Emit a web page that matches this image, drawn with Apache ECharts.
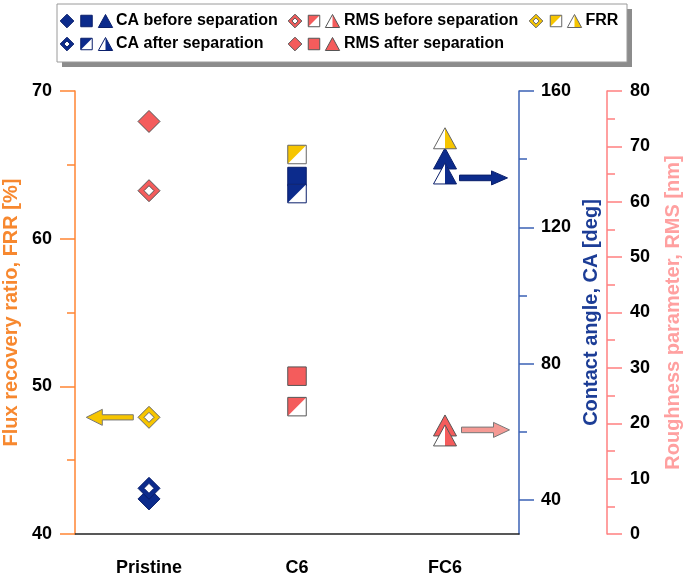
<!DOCTYPE html>
<html><head><meta charset="utf-8">
<script src="https://cdn.jsdelivr.net/npm/echarts@6/dist/echarts.min.js"></script>
<style>html,body{margin:0;padding:0;background:#fff}#c{width:685px;height:578px}</style>
</head><body><div id="c"></div>
<script>
// ---------- data ----------
const categories = ['Pristine', 'C6', 'FC6'];
const caBefore  = [40.3, 134.9, 140.2];   // contact angle [deg]
const caAfter   = [43.4, 129.9, 135.8];
const rmsBefore = [62.0, 23.0, 17.8];     // roughness [nm]
const rmsAfter  = [74.5, 28.5, 19.6];
const frr       = [47.9, 65.7, 66.8];     // flux recovery ratio [%]
const caTickValues  = [40, 80, 120, 160];
const caMinorValues = [60, 100, 140];
// annotation arrows (category, value on its axis)
const frrArrow = ['Pristine', 47.9];
const caArrow  = ['FC6', 134.5];
const rmsArrow = ['FC6', 18.8];

// ---------- styles ----------
const FONT = '"Liberation Sans", Arial, sans-serif';
const BLUE = '#0c2b8c', BLUE_OUT = '#0a1f6b';
const RED = '#f45c5c', RED_OUT = '#555555';
const YEL = '#f6c500', YEL_OUT = '#666666';
const SHAPES = ['diamond', 'square', 'triangle'];

function poly(pts, cx, cy, fill, stroke, lw) {
  return { type: 'polygon',
    shape: { points: pts.map(q => [cx + q[0], cy + q[1]]) },
    style: { fill: fill, stroke: stroke || null, lineWidth: lw || 0 } };
}
function glyph(shape, open, color, outline, cx, cy, k) {
  const parts = [];
  if (shape === 'diamond') {
    const r = 11 * k, ri = 5 * k;
    parts.push(poly([[0,-r],[r,0],[0,r],[-r,0]], cx, cy, color, outline, 1));
    if (open) parts.push(poly([[0,-ri],[ri,0],[0,ri],[-ri,0]], cx, cy, '#fff', outline, 1));
  } else if (shape === 'square') {
    const h = 9.25 * k;
    const pts = [[-h,-h],[h,-h],[h,h],[-h,h]];
    if (open) {
      parts.push(poly(pts, cx, cy, '#fff'));
      parts.push(poly([[-h,-h],[h,-h],[-h,h]], cx, cy, color));
      parts.push(poly(pts, cx, cy, 'none', outline, 1));
    } else parts.push(poly(pts, cx, cy, color, outline, 1));
  } else {
    const w = 11.5 * k, h = 10.5 * k;
    const pts = [[0,-h],[w,h],[-w,h]];
    if (open) {
      parts.push(poly(pts, cx, cy, '#fff'));
      parts.push(poly([[0,-h],[w,h],[0,h]], cx, cy, color));
      parts.push(poly(pts, cx, cy, 'none', outline, 1));
    } else parts.push(poly(pts, cx, cy, color, outline, 1));
  }
  return parts;
}

function markerSeries(name, values, yAxisIndex, open, color, outline) {
  return {
    name: name, type: 'custom', coordinateSystem: 'cartesian2d',
    xAxisIndex: 0, yAxisIndex: yAxisIndex, clip: false,
    encode: { x: 0, y: 1 },
    data: categories.map((c, i) => [i, values[i]]),
    renderItem: function (params, api) {
      const idx = api.value(0);
      const p = api.coord([idx, api.value(1)]);
      return { type: 'group', children: glyph(SHAPES[idx], open, color, outline, p[0], p[1], 1) };
    }
  };
}

function arrowSeries(item, yAxisIndex, dir, fill, stroke, cfg) {
  return {
    type: 'custom', coordinateSystem: 'cartesian2d', xAxisIndex: 0, yAxisIndex: yAxisIndex,
    clip: false, silent: true, encode: { x: 0, y: 1 },
    data: [[categories.indexOf(item[0]), item[1]]],
    renderItem: function (params, api) {
      const p = api.coord([api.value(0), api.value(1)]);
      const cx = p[0], cy = p[1];
      const x0 = cx + dir * cfg.gap, x1 = cx + dir * (cfg.gap + cfg.len);
      const xh = x1 - dir * cfg.head;
      const sh = cfg.shaft, hh = cfg.half;
      const pts = [[x0, cy - sh], [xh, cy - sh], [xh, cy - hh], [x1, cy], [xh, cy + hh], [xh, cy + sh], [x0, cy + sh]];
      return { type: 'polygon', shape: { points: pts }, style: { fill: fill, stroke: stroke, lineWidth: 1 } };
    }
  };
}

// ---------- legend (graphic) ----------
const legendEls = [];
legendEls.push({ type: 'rect', shape: { x: 62, y: 9, width: 570, height: 58 }, style: { fill: '#8c8c8c' } });
legendEls.push({ type: 'rect', shape: { x: 57, y: 4, width: 570, height: 58 }, style: { fill: '#fff', stroke: '#9a9a9a', lineWidth: 1 } });
function legendItem(xs, y, open, color, outline, text) {
  SHAPES.forEach((s, i) => glyph(s, open, color, outline, xs[i], y, 0.62).forEach(e => legendEls.push(e)));
  legendEls.push({ type: 'text', x: xs[3], y: y,
    style: { text: text, fill: '#000', fontSize: 16, fontWeight: 'bold', fontFamily: FONT, verticalAlign: 'middle', align: 'left' } });
}
const colA = [67, 86.5, 105.5, 116], colB = [295, 314, 332.5, 344], colC = [536, 556, 574.5, 585.5];
legendItem(colA, 21, false, BLUE, BLUE_OUT, 'CA before separation');
legendItem(colB, 21, true, RED, RED_OUT, 'RMS before separation');
legendItem(colC, 21, true, YEL, YEL_OUT, 'FRR');
legendItem(colA, 44, true, BLUE, BLUE_OUT, 'CA after separation');
legendItem(colB, 44, false, RED, RED_OUT, 'RMS after separation');

// ---------- chart ----------
const labelStyle = { color: '#000', fontSize: 18, fontWeight: 'bold', fontFamily: FONT };
const chart = echarts.init(document.getElementById('c'), null, { renderer: 'canvas' });
chart.setOption({
  animation: false,
  backgroundColor: '#fff',
  grid: { left: 75, right: 166, top: 91, bottom: 44, containLabel: false, outerBoundsMode: 'none' },
  xAxis: {
    type: 'category', data: categories,
    axisLine: { lineStyle: { color: '#222', width: 1.5 } },
    axisTick: { show: false },
    axisLabel: Object.assign({ margin: 25 }, labelStyle),
    splitLine: { show: false }
  },
  yAxis: [
    { type: 'value', position: 'left', min: 40, max: 70, interval: 10,
      name: 'Flux recovery ratio, FRR [%]', nameLocation: 'middle', nameGap: 52,
      nameTextStyle: { color: '#f7882f', fontSize: 20, fontWeight: 'bold', fontFamily: FONT },
      axisLine: { show: true, lineStyle: { color: '#ff8533', width: 1.5 } },
      axisTick: { show: true, length: 15, lineStyle: { color: '#ff8533', width: 1.5 } },
      minorTick: { show: true, splitNumber: 2, length: 8, lineStyle: { color: '#ff8533', width: 1.5 } },
      axisLabel: Object.assign({ margin: 23 }, labelStyle),
      splitLine: { show: false } },
    { type: 'value', position: 'right', offset: 0, min: 30, max: 160,
      name: 'Contact angle, CA [deg]', nameLocation: 'middle', nameGap: 60,
      nameTextStyle: { color: '#1c3d96', fontSize: 20, fontWeight: 'bold', fontFamily: FONT },
      axisLine: { show: true, lineStyle: { color: '#3b62b5', width: 1.5 } },
      axisTick: { show: true, length: 15, customValues: caTickValues, lineStyle: { color: '#3b62b5', width: 1.5 } },
      axisLabel: Object.assign({ margin: 22, customValues: caTickValues }, labelStyle),
      splitLine: { show: false } },
    { type: 'value', position: 'right', offset: 0, min: 30, max: 160,
      axisLine: { show: false },
      axisTick: { show: true, length: 8, customValues: caMinorValues, lineStyle: { color: '#3b62b5', width: 1.5 } },
      axisLabel: { show: false }, splitLine: { show: false } },
    { type: 'value', position: 'right', offset: 88, min: 0, max: 80, interval: 10,
      name: 'Roughness parameter, RMS [nm]', nameLocation: 'middle', nameGap: 56,
      nameTextStyle: { color: '#ffa0a0', fontSize: 20, fontWeight: 'bold', fontFamily: FONT },
      axisLine: { show: true, lineStyle: { color: '#ff8080', width: 1.5 } },
      axisTick: { show: true, length: 15, lineStyle: { color: '#ff8080', width: 1.5 } },
      minorTick: { show: true, splitNumber: 2, length: 8, lineStyle: { color: '#ff8080', width: 1.5 } },
      axisLabel: Object.assign({ margin: 23 }, labelStyle),
      splitLine: { show: false } }
  ],
  graphic: [{ type: 'group', silent: true, children: legendEls }],
  series: [
    arrowSeries(frrArrow, 0, -1, YEL, '#777', { gap: 15.7, len: 47, head: 16, half: 8, shaft: 2.6 }),
    arrowSeries(caArrow, 1, 1, BLUE, BLUE_OUT, { gap: 14.5, len: 48, head: 16, half: 7, shaft: 2.8 }),
    arrowSeries(rmsArrow, 3, 1, '#f59a94', '#777', { gap: 16.5, len: 48, head: 16, half: 7.5, shaft: 2.8 }),
    markerSeries('CA before separation', caBefore, 1, false, BLUE, BLUE_OUT),
    markerSeries('CA after separation', caAfter, 1, true, BLUE, BLUE_OUT),
    markerSeries('RMS after separation', rmsAfter, 3, false, RED, RED_OUT),
    markerSeries('RMS before separation', rmsBefore, 3, true, RED, RED_OUT),
    markerSeries('FRR', frr, 0, true, YEL, YEL_OUT)
  ]
});
</script></body></html>
